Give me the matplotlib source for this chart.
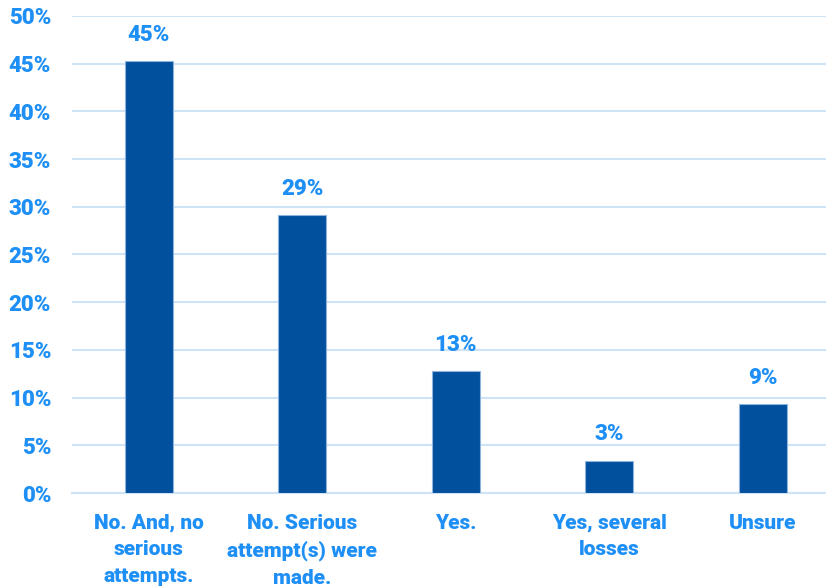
import matplotlib
matplotlib.use("Agg")
import matplotlib.pyplot as plt
from matplotlib.ticker import MultipleLocator, FuncFormatter

categories = ["No. And, no\nserious\nattempts.",
              "No. Serious\nattempt(s) were\nmade.",
              "Yes.",
              "Yes, several\nlosses",
              "Unsure"]
values = [45.3, 29.1, 12.8, 3.4, 9.3]

bar_color = "#00509D"
text_color = "#1E8FF5"
grid_color = "#CFE3F6"
font = ["Roboto", "DejaVu Sans"]
weight = "black"

plt.rcParams["font.family"] = font

fig = plt.figure(figsize=(8.26, 5.88), dpi=100)
ax = fig.add_axes([72 / 826, 95 / 588, 767.5 / 826, 477 / 588])

x = range(len(categories))
ax.bar(x, values, width=0.31, color=bar_color,
       edgecolor="#8DB4DC", linewidth=0.8, zorder=3)

for xi, v in zip(x, values):
    ax.annotate(f"{round(v)}%", (xi, v), xytext=(0, 11),
                textcoords="offset points", ha="center", va="bottom",
                color=text_color, fontsize=16, fontweight=weight)

ax.set_xlim(-0.5, len(categories) - 0.5)
ax.set_ylim(0, 50)
ax.yaxis.set_major_locator(MultipleLocator(5))
ax.yaxis.set_major_formatter(FuncFormatter(lambda v, p: f"{v:.0f}%"))
ax.grid(axis="y", color=grid_color, linewidth=1.5, zorder=0)
ax.set_axisbelow(True)

ax.set_xticks(list(x))
ax.set_xticklabels(categories)
ax.tick_params(axis="both", length=0, labelcolor=text_color)
ax.tick_params(axis="y", pad=15, labelsize=16)
ax.tick_params(axis="x", pad=15, labelsize=15)
for lab in ax.get_xticklabels():
    lab.set_fontweight(weight)
    lab.set_linespacing(1.5)
for lab in ax.get_yticklabels():
    lab.set_fontweight(weight)

for s in ["top", "right", "left"]:
    ax.spines[s].set_visible(False)
ax.spines["bottom"].set_color(grid_color)
ax.spines["bottom"].set_linewidth(1.5)

fig.savefig("out.png", dpi=100)
